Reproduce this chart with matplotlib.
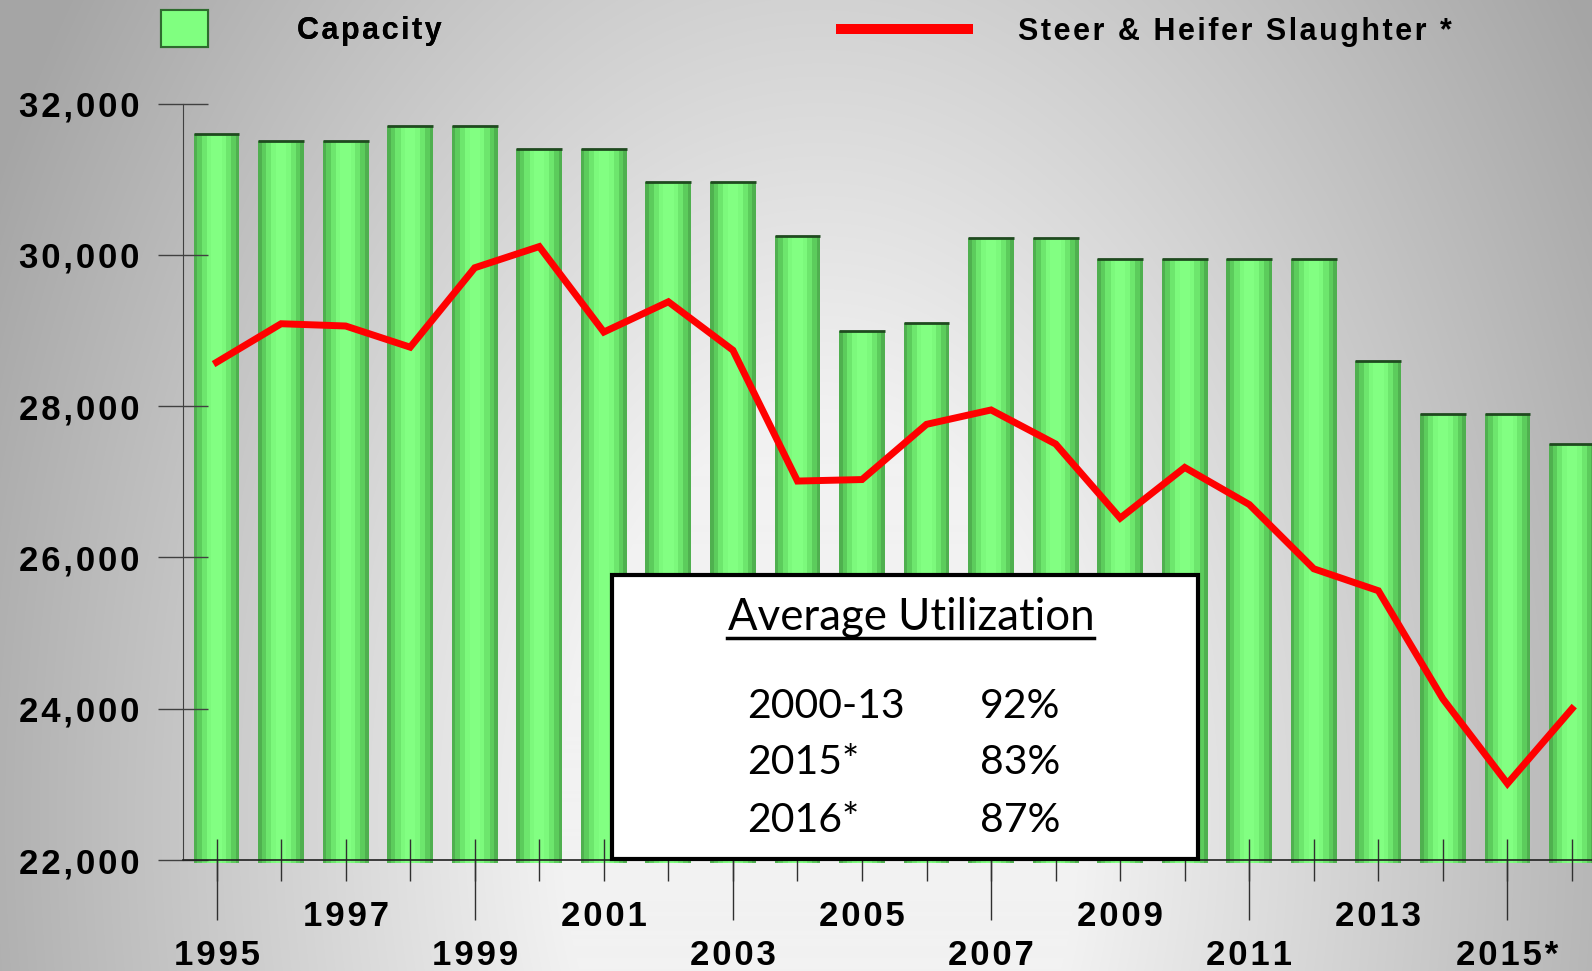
import numpy as np
import matplotlib
matplotlib.use("Agg")
import matplotlib.pyplot as plt
from matplotlib import font_manager
from matplotlib.patches import Patch, Rectangle
from matplotlib.lines import Line2D

# data (head, thousands)
years = list(range(1995, 2017))
capacity = [31600, 31500, 31500, 31700, 31700, 31400, 31400, 30970, 30970, 30250,
            29000, 29100, 30230, 30230, 29950, 29950, 29950, 29950, 28600, 27900,
            27900, 27500]
slaughter = [28580, 29090, 29060, 28780, 29830, 30110, 28980, 29380, 28740, 27010,
             27030, 27760, 27950, 27500, 26520, 27190, 26700, 25850, 25560, 24130,
             23010, 24000]
upper_years = [1997, 2001, 2005, 2009, 2013]
lower_years = [1995, 1999, 2003, 2007, 2011, 2015]
lower_labels = ["1995", "1999", "2003", "2007", "2011", "2015*"]
yticks = [22000, 24000, 26000, 28000, 30000, 32000]
util_periods = ["2000-13", "2015*", "2016*"]
util_values = ["92%", "83%", "87%"]

names = {f.name for f in font_manager.fontManager.ttflist}
narrow = "Liberation Sans Narrow" if "Liberation Sans Narrow" in names else "Liberation Sans"
box_font = "Lato"


def spaced(s):
    # fake letter spacing like the original slide
    return "\u200a".join(s)


W, H = 1592, 971
fig = plt.figure(figsize=(W / 100, H / 100), dpi=100)

# gray radial background
bg = fig.add_axes([0, 0, 1, 1], zorder=-10)
yy, xx = np.mgrid[0:H, 0:W]
r = np.sqrt(((xx - 820) / 850.0) ** 2 + ((yy - 820) / 1300.0) ** 2)
v = np.clip(272 - 98 * r, 165, 242) / 255.0
bg.imshow(np.dstack([v, v, v]), aspect="auto", extent=[0, 1, 0, 1], origin="upper")
bg.axis("off")

ax = fig.add_axes([183 / W, 1 - 870 / H, 1 - 183 / W, 870 / H])
ax.patch.set_alpha(0)
ax.set_xlim(1994.48, 2016.31)
ax.set_ylim(21868, 33370)

# cylinder-ish bars: stacked narrower, lighter bars
shades = [(0.71, "#4fb04f"), (0.60, "#5ccc5c"), (0.46, "#6de66d"), (0.30, "#7cf97c"), (0.16, "#82ff82")]
for w, c in shades:
    ax.bar(years, np.array(capacity) - 21960, bottom=21960, width=w, color=c, zorder=1)
ax.hlines(capacity, np.array(years) - 0.355, np.array(years) + 0.355, color="#1f4a1f", lw=2, zorder=1.5)

ax.plot(years, slaughter, color="#ff0000", lw=5, zorder=3, solid_joinstyle="miter")

for s in ["top", "right"]:
    ax.spines[s].set_visible(False)
ax.spines["left"].set_bounds(22000, 32000)
ax.spines["left"].set_color("#404040")
ax.spines["bottom"].set_position(("data", 22000))
ax.spines["bottom"].set_color("#202020")
ax.spines["bottom"].set_linewidth(1.2)

tick_font = dict(family=narrow, weight="bold", size=25)
ax.set_yticks(yticks)
ax.set_yticklabels([spaced(f"{t:,}") for t in yticks], fontdict=tick_font)
ax.tick_params(axis="y", direction="inout", length=36, width=1, color="#404040", pad=13.5)

ax.xaxis.remove_overlapping_locs = False
ax.set_xticks(years)
ax.set_xticklabels([spaced(str(y)) if y in upper_years else "" for y in years], fontdict=tick_font)
ax.set_xticks(lower_years, minor=True)
ax.set_xticklabels([spaced(s) for s in lower_labels], minor=True, fontdict=tick_font)
ax.tick_params(axis="x", which="major", direction="inout", length=30, width=1, color="#303030", pad=14)
ax.tick_params(axis="x", which="minor", direction="out", length=43, width=1, color="#303030", pad=14)

# legends
leg_font = dict(family=narrow, weight="bold", size=22)
leg1 = fig.legend(handles=[Patch(fc="#80ff80", ec="#2e6b2e", lw=1.5)], labels=[spaced("Capacity")],
                  loc="upper left", bbox_to_anchor=(161 / W, 1 - 10 / H), frameon=False,
                  borderpad=0, borderaxespad=0, handlelength=1.54, handleheight=1.5,
                  handletextpad=2.9, prop=leg_font)
leg2 = fig.legend(handles=[Line2D([], [], color="#ff0000", lw=7.2, solid_capstyle="butt")],
                  labels=[spaced("Steer & Heifer Slaughter *")],
                  loc="upper left", bbox_to_anchor=(836 / W, 1 - 17 / H), frameon=False,
                  borderpad=0, borderaxespad=0, handlelength=4.48, handletextpad=1.47,
                  prop=leg_font)
fig.add_artist(leg1)

# utilization box
fig.add_artist(Rectangle((612 / W, 1 - 859 / H), (1198 - 612) / W, (859 - 575) / H,
                         transform=fig.transFigure, fc="white", ec="black", lw=3, zorder=5))
fig.text(911 / W, 1 - 617 / H, "Average Utilization", family=box_font, size=31.5,
         ha="center", va="center", zorder=6)
fig.add_artist(Line2D([727 / W, 1094 / W], [1 - 638 / H, 1 - 638 / H], transform=fig.transFigure,
                      color="black", lw=2.5, zorder=6))
for i, (p, u) in enumerate(zip(util_periods, util_values)):
    yc = 1 - (706 + 57 * i) / H
    fig.text(747 / W, yc, p, family=box_font, size=29.5, ha="left", va="center", zorder=6)
    fig.text(980 / W, yc, u, family=box_font, size=29.5, ha="left", va="center", zorder=6)

fig.savefig("out.png", dpi=100)
